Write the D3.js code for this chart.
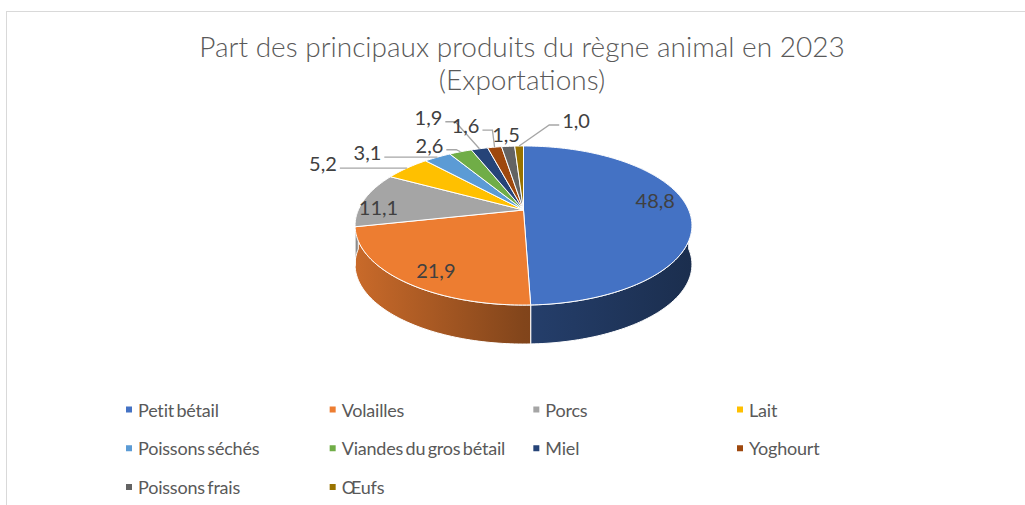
<!DOCTYPE html>
<html>
<head>
<meta charset="utf-8">
<script src="https://cdn.jsdelivr.net/npm/d3@7"></script>
<style>
  body { margin: 0; background: #fff; }
  svg { display: block; }
</style>
</head>
<body>
<svg width="1025" height="505"></svg>
<script>
// data
var categories = ['Petit bétail', 'Volailles', 'Porcs', 'Lait', 'Poissons séchés',
  'Viandes du gros bétail', 'Miel', 'Yoghourt', 'Poissons frais', 'Œufs']
var values = [48.8, 21.9, 11.1, 5.2, 3.1, 2.6, 1.9, 1.6, 1.5, 1.0]
var colors = ['#4472C4', '#ED7D31', '#A5A5A5', '#FFC000', '#5B9BD5',
  '#70AD47', '#264478', '#9E480E', '#636363', '#997300']
var titleLines = ['Part des principaux produits du règne animal en 2023', '(Exportations)']

// label nudges (px), relative to the computed anchor of each slice
var labelNudge = [[0, -9], [5, 5], [-17, 5], [-84, -5], [-70, -5], [-31, -7], [-51, -32], [-29, -22], [-2, -12], [57, -26]]

var svgWidth = 1025, svgHeight = 505
var CX = 523.5, CY = 210, K = 165.2, M = 76.5, P = -0.195, DEPTH = 39
var font = 'Lato, "Open Sans", sans-serif'

var svg = d3.select('svg')

// chart border
svg.append('rect')
  .attr('x', 6.5).attr('y', 11.5)
  .attr('width', 1040).attr('height', 520)
  .attr('fill', '#fff').attr('stroke', '#d9d9d9').attr('stroke-width', 1)

// title
svg.append('text')
  .attr('x', 522).attr('y', 57)
  .attr('text-anchor', 'middle')
  .style('font-family', font).style('font-weight', 300)
  .style('font-size', '28px').style('fill', '#595959')
  .selectAll('tspan').data(titleLines).enter().append('tspan')
  .attr('x', 522).attr('dy', function(d, i) { return i ? 33 : 0 })
  .text(function(d) { return d })

// perspective projection of the pie plane
function proj(theta, r, drop) {
  var u = r * Math.sin(theta), v = -r * Math.cos(theta)
  var den = 1 + P * v
  return [CX + K * u / den, CY + M * v / den + (drop || 0)]
}
function arcPts(a0, a1, drop) {
  var n = Math.max(2, Math.ceil((a1 - a0) / 0.02)), pts = []
  for (var i = 0; i <= n; i++) pts.push(proj(a0 + (a1 - a0) * i / n, 1, drop))
  return pts
}

var pie = d3.pie().sort(null).value(function(d) { return d })
var arcs = pie(values)
var line = d3.line()

// side gradients
var defs = svg.append('defs')
colors.forEach(function(c, i) {
  var g = defs.append('linearGradient').attr('id', 'side' + i)
    .attr('gradientUnits', 'userSpaceOnUse')
    .attr('x1', CX - 168).attr('x2', CX + 168).attr('y1', 0).attr('y2', 0)
  var base = d3.rgb(c)
  ;[[0, 0.85], [0.5, 0.55], [1, 0.4]].forEach(function(s) {
    g.append('stop').attr('offset', s[0])
      .attr('stop-color', d3.rgb(base.r * s[1], base.g * s[1], base.b * s[1]))
  })
})

// sides (front half only)
var sides = svg.append('g')
arcs.forEach(function(a, i) {
  var a0 = Math.max(a.startAngle, Math.PI / 2), a1 = Math.min(a.endAngle, 3 * Math.PI / 2)
  if (a1 <= a0) return
  var pts = arcPts(a0, a1, 0).concat(arcPts(a0, a1, DEPTH).reverse())
  sides.append('path')
    .attr('d', line(pts) + 'Z')
    .attr('fill', 'url(#side' + i + ')')
    .attr('stroke', '#fff').attr('stroke-width', 1)
})

// top faces
svg.append('g').selectAll('path')
  .data(arcs).enter().append('path')
  .attr('d', function(a) {
    return line([proj(0, 0)].concat(arcPts(a.startAngle, a.endAngle, 0))) + 'Z'
  })
  .attr('fill', function(a, i) { return colors[i] })
  .attr('stroke', '#fff').attr('stroke-width', 1)

// data labels
var fmt = function(v) { return d3.format('.1f')(v).replace('.', ',') }
var labels = svg.append('g')
arcs.forEach(function(a, i) {
  var mid = (a.startAngle + a.endAngle) / 2
  var inside = a.value > 10
  var anchor = proj(mid, inside ? 0.8 : 1)
  var lx = anchor[0] + labelNudge[i][0], ly = anchor[1] + labelNudge[i][1]
  var t = labels.append('text')
    .attr('x', lx).attr('y', ly)
    .attr('text-anchor', 'middle').attr('dominant-baseline', 'central')
    .style('font-family', font).style('font-size', '20px').style('fill', '#404040')
    .text(fmt(a.value))
  if (!inside && Math.hypot(labelNudge[i][0], labelNudge[i][1]) > 25) {
    var bb = t.node().getBBox()
    var left = lx < anchor[0]
    var sx = left ? bb.x + bb.width + 3 : bb.x - 3
    var sy = ly + 5
    var ex = left ? sx + 10 : sx - 10
    labels.append('path')
      .attr('d', line([[sx, sy], [ex, sy], anchor]))
      .attr('fill', 'none').attr('stroke', '#a6a6a6').attr('stroke-width', 1.3)
  }
})

// legend
var colX = d3.scaleLinear().domain([0, 3]).range([126, 737])
var rowY = d3.scaleLinear().domain([0, 2]).range([409.5, 487])
var legend = svg.append('g').selectAll('g')
  .data(categories).enter().append('g')
  .attr('transform', function(d, i) {
    return 'translate(' + colX(i % 4) + ',' + rowY(Math.floor(i / 4)) + ')'
  })
legend.append('rect')
  .attr('x', 0).attr('y', -3).attr('width', 6).attr('height', 6)
  .attr('fill', function(d, i) { return colors[i] })
legend.append('text')
  .attr('x', 12).attr('y', 0).attr('dominant-baseline', 'central')
  .style('font-family', font).style('font-size', '18px').style('fill', '#595959')
  .style('word-spacing', '-2px').style('letter-spacing', '-0.2px')
  .text(function(d) { return d })
</script>
</body>
</html>
